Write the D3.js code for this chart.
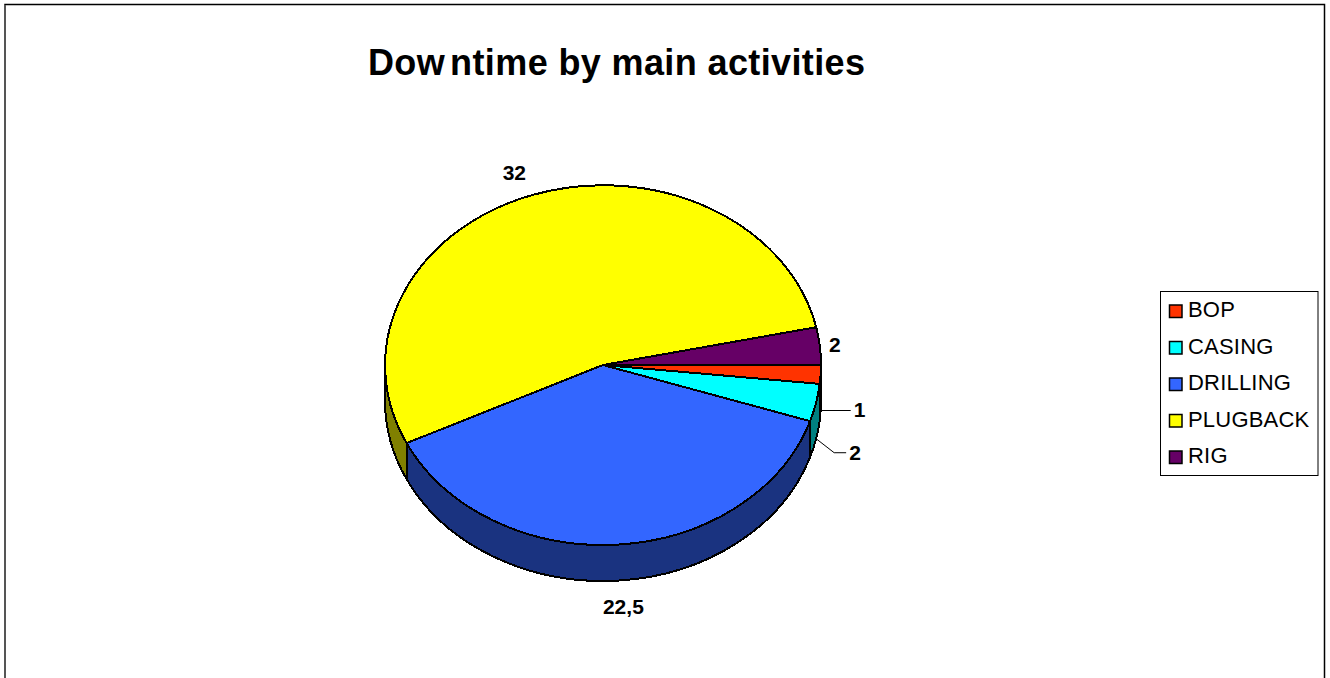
<!DOCTYPE html>
<html><head><meta charset="utf-8">
<script src="https://cdn.jsdelivr.net/npm/d3@7/dist/d3.min.js"></script>
<style>html,body{margin:0;padding:0;background:#fff;overflow:hidden}svg{display:block}text{font-family:"Liberation Sans",Arial,sans-serif;fill:#000}</style>
</head><body><svg id="c" width="1330" height="678"></svg>
<script>
const categories = ["BOP","CASING","DRILLING","PLUGBACK","RIG"];
const values = [1,2,22.5,32,2];
const valueLabels = ["1","2","22,5","32","2"];
const topColors = ["#ff3300","#00ffff","#3366ff","#ffff00","#660066"];
const sideColors = ["#801a00","#008080","#1a3380","#808000","#330033"];
const labelOffsets = [[0,0],[0,0],[6,62],[-18,-22],[15,-1]];
const leaders = [[30],[18,14,12],null,null,null];

const W=1330,H=678,cx=603,cy=365,rx=218,ry=180,depth=36;
const svg=d3.select("#c");

svg.append("rect").attr("x",5).attr("y",4.5).attr("width",1319.5).attr("height",H+20)
  .attr("fill","#fff").attr("stroke","#000").attr("stroke-width",1.5);
svg.append("line").attr("x1",5).attr("x2",5).attr("y1",5).attr("y2",H).attr("stroke","#555").attr("stroke-width",2);

svg.append("text").attr("x",368).attr("y",75).attr("font-size",36).attr("font-weight","bold")
  .attr("dx","0 0 0 5").attr("textLength",497).attr("lengthAdjust","spacing").text("Downtime by main activities");

const pie=d3.pie().value(d=>d).sort(null).startAngle(Math.PI/2).endAngle(Math.PI/2+2*Math.PI);
const arcs=pie(values);
const arc=d3.arc().innerRadius(0).outerRadius(1);
const pt=a=>[cx+rx*Math.sin(a),cy-ry*Math.cos(a)];

const g=svg.append("g").attr("shape-rendering","crispEdges");
function wall(d){
  const a0=Math.max(d.startAngle,Math.PI/2), a1=Math.min(d.endAngle,3*Math.PI/2);
  if(a1<=a0) return null;
  const [x0,y0]=pt(a0),[x1,y1]=pt(a1);
  return `M${x0},${y0}A${rx},${ry} 0 0 1 ${x1},${y1}L${x1},${y1+depth}A${rx},${ry} 0 0 0 ${x0},${y0+depth}Z`;
}
g.selectAll("path.wall").data(arcs).join("path").attr("class","wall")
  .attr("d",wall).attr("fill",(d,i)=>sideColors[i]).attr("stroke","#000").attr("stroke-width",2).attr("stroke-linejoin","round");
g.selectAll("path.top").data(arcs).join("path").attr("class","top")
  .attr("transform",`translate(${cx},${cy}) scale(${rx},${ry})`)
  .attr("d",arc).attr("fill",(d,i)=>topColors[i])
  .attr("stroke","#000").attr("stroke-width",2).attr("vector-effect","non-scaling-stroke").attr("stroke-linejoin","round");

arcs.forEach((d,i)=>{
  const mid=(d.startAngle+d.endAngle)/2;
  const [x,y]=pt(mid);
  let tx=x+labelOffsets[i][0], ty=y+labelOffsets[i][1];
  if(leaders[i]){
    const y2=y+depth; const L=leaders[i];
    let p=[[x,y2]];
    if(L.length===1){p.push([x+L[0],y2]);}
    else{p.push([x+L[0],y2+L[1]]);p.push([x+L[0]+L[2],y2+L[1]]);}
    svg.append("path").attr("d",d3.line()(p)).attr("fill","none").attr("stroke","#000").attr("stroke-width",1);
    const e=p[p.length-1]; tx=e[0]+9; ty=e[1];
  }
  svg.append("text").attr("x",tx).attr("y",ty).attr("dy","0.33em").attr("text-anchor","middle")
    .attr("font-size",21).attr("font-weight","bold").text(valueLabels[i]);
});

svg.append("rect").attr("x",1160.5).attr("y",291.5).attr("width",157.5).attr("height",184).attr("fill","#fff").attr("stroke","#000").attr("stroke-width",1);
const ly=d3.scalePoint().domain(categories).range([310,456]);
const lg=svg.selectAll("g.l").data(categories).join("g").attr("class","l").attr("transform",d=>`translate(0,${ly(d)})`);
lg.append("rect").attr("x",1169.5).attr("y",-5).attr("width",12.5).attr("height",12.5).attr("fill",(d,i)=>topColors[i]).attr("stroke","#000").attr("stroke-width",1.5);
lg.append("text").attr("x",1188).attr("y",0).attr("dy","0.34em").attr("font-size",22).attr("letter-spacing",0.2).text(d=>d);
</script></body></html>
